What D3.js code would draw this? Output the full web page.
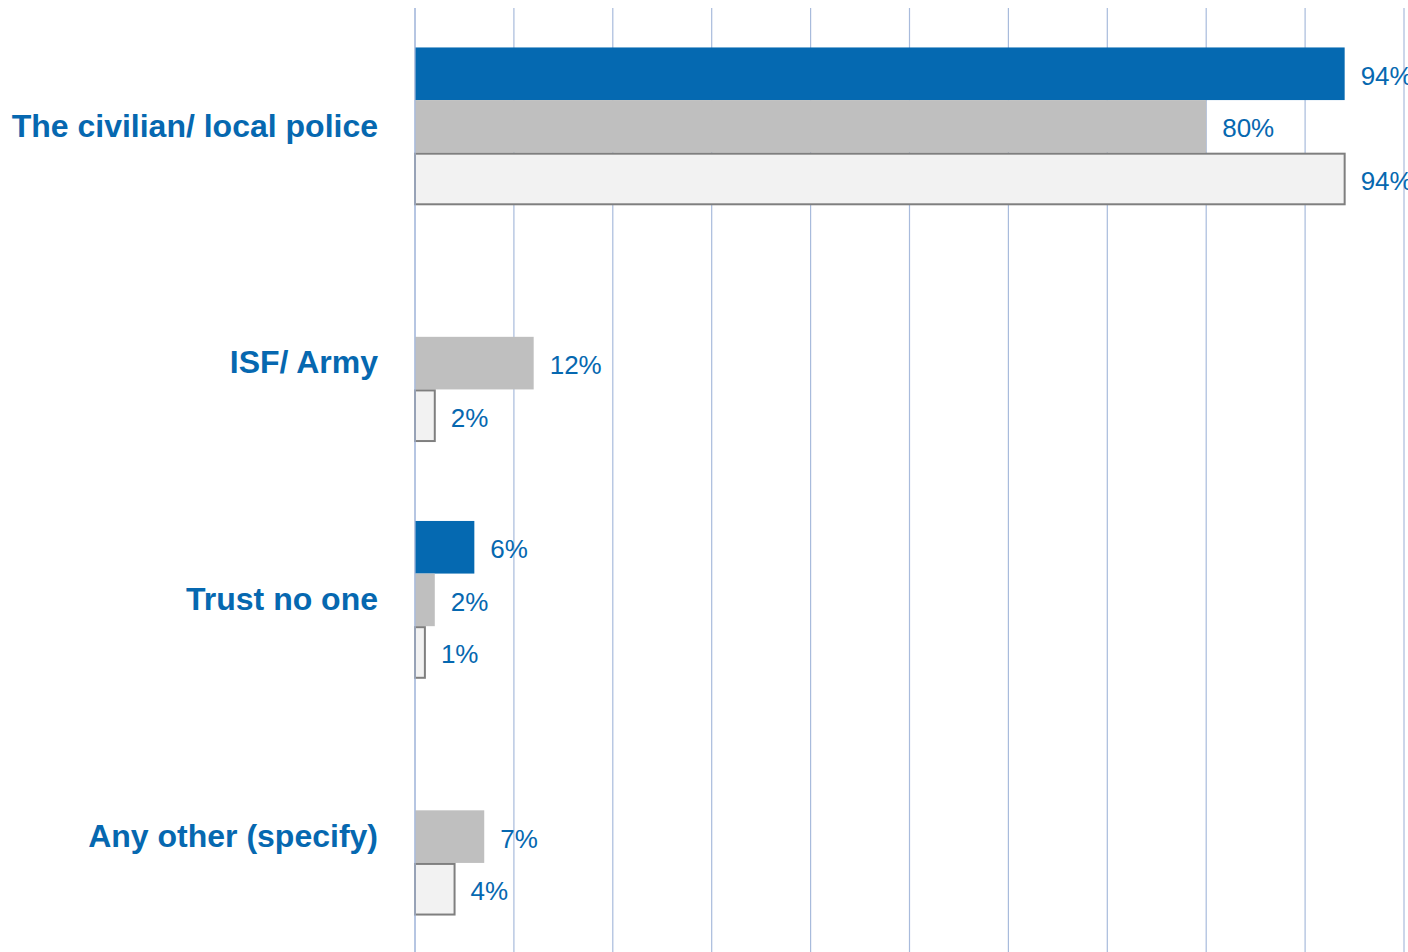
<!DOCTYPE html>
<html>
<head>
<meta charset="utf-8">
<script src="https://cdn.jsdelivr.net/npm/d3@7"></script>
<style>
  html, body { margin: 0; padding: 0; background: #ffffff; }
  svg { display: block; }
  text { font-family: "Liberation Sans", Arial, sans-serif; }
</style>
</head>
<body>
<svg id="chart" width="1408" height="952"></svg>
<script>
// Categories (top to bottom)
const categories = [
  "The civilian/ local police",
  "ISF/ Army",
  "Trust no one",
  "Any other (specify)"
];

// Three series per category, percent values (null = no bar)
const seriesKeys = ["s1", "s2", "s3"];
const s1Values = [94, null, 6, null];
const s2Values = [80, 12, 2, 7];
const s3Values = [94, 2, 1, 4];
const seriesValues = [s1Values, s2Values, s3Values];

const gridTicks = [0, 10, 20, 30, 40, 50, 60, 70, 80, 90, 100];

const fills = { s1: "#0569B1", s2: "#BFBFBF", s3: "#F2F2F2" };
const strokes = { s1: "none", s2: "none", s3: "#7F7F7F" };
const textBlue = "#0668B0";

const svg = d3.select("#chart");

const x = d3.scaleLinear().domain([0, 100]).range([415, 1404]);
const y = d3.scaleBand().domain(categories).range([8, 955])
  .paddingInner(1 / 3).paddingOuter(1 / 6);
const ySub = d3.scaleBand().domain(seriesKeys).range([0, y.bandwidth()]).padding(0);

// Vertical grid lines
svg.append("g")
  .selectAll("line")
  .data(gridTicks)
  .join("line")
  .attr("x1", d => x(d)).attr("x2", d => x(d))
  .attr("y1", 8).attr("y2", 952)
  .attr("stroke", "#A8BBDC")
  .attr("stroke-width", 1.2);

// Flatten values into bar records
const bars = [];
categories.forEach((c, i) => {
  seriesKeys.forEach((k, j) => {
    const v = seriesValues[j][i];
    if (v != null) bars.push({ cat: c, key: k, value: v });
  });
});

const g = svg.append("g");

g.selectAll("rect")
  .data(bars)
  .join("rect")
  .attr("x", x(0))
  .attr("y", d => y(d.cat) + ySub(d.key) + (d.key === "s3" ? 1 : 0))
  .attr("width", d => x(d.value) - x(0))
  .attr("height", d => ySub.bandwidth() - (d.key === "s3" ? 2 : 0))
  .attr("fill", d => fills[d.key])
  .attr("stroke", d => strokes[d.key])
  .attr("stroke-width", 2);

// Value labels
g.selectAll("text.val")
  .data(bars)
  .join("text")
  .attr("class", "val")
  .attr("x", d => x(d.value) + 16)
  .attr("y", d => y(d.cat) + ySub(d.key) + ySub.bandwidth() / 2)
  .attr("dy", "0.42em")
  .attr("font-size", 26)
  .attr("fill", textBlue)
  .text(d => d.value + "%");

// Category labels
svg.append("g")
  .selectAll("text")
  .data(categories)
  .join("text")
  .attr("x", 378)
  .attr("y", d => y(d) + y.bandwidth() / 2)
  .attr("dy", "0.32em")
  .attr("text-anchor", "end")
  .attr("font-size", 32)
  .attr("font-weight", "bold")
  .attr("fill", textBlue)
  .text(d => d);

// Left axis line over the bars
svg.append("line")
  .attr("x1", x(0)).attr("x2", x(0))
  .attr("y1", 8).attr("y2", 952)
  .attr("stroke", "#A8BBDC")
  .attr("stroke-width", 1.2);
</script>
</body>
</html>
